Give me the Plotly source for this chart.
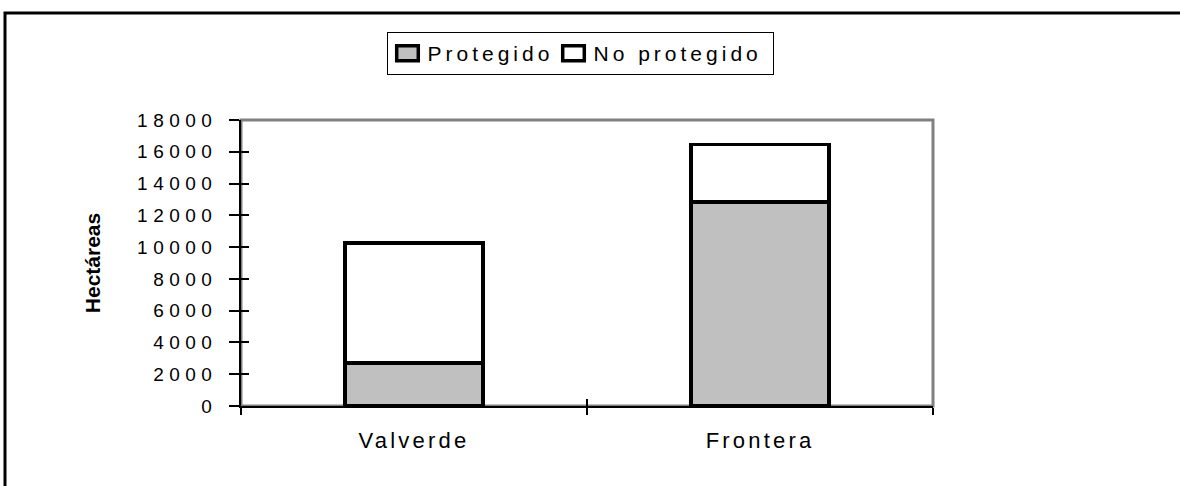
import plotly.graph_objects as go

# Data
regiones = ['Valverde', 'Frontera']
protegido = [2700, 12850]
no_protegido = [7550, 3600]   # stacked on top of protegido
y_ticks = [0, 2000, 4000, 6000, 8000, 10000, 12000, 14000, 16000, 18000]

W, H = 1180, 486
L, R, T, B = 241, 247, 120, 80
pw, ph = W - L - R, H - T - B


def px(x):
    return (x - L) / pw


def py(y):
    return (H - B - y) / ph


font_txt = dict(family='Liberation Sans, Arial, sans-serif', size=20, color='black')

fig = go.Figure()

fig.add_trace(go.Bar(
    x=regiones, y=protegido, name='Protegido',
    marker=dict(color='#c0c0c0', line=dict(color='black', width=3.5)),
    width=0.4, legendwidth=121,
))
fig.add_trace(go.Bar(
    x=regiones, y=no_protegido, name='No protegido',
    marker=dict(color='white', line=dict(color='black', width=3.5)),
    width=0.4, legendwidth=174,
))

# empty trace so the overlay axes (inner half of the crossing ticks) get drawn
fig.add_trace(go.Scatter(x=[], y=[], xaxis='x2', yaxis='y2', showlegend=False, hoverinfo='skip'))

# gray plot area border (top/right)
fig.add_shape(type='rect', xref='paper', yref='paper', x0=0, y0=0, x1=1, y1=1,
              line=dict(color='#808080', width=3), layer='below')

# outer chart frame, cropped by the image edge
fig.add_shape(type='rect', xref='paper', yref='paper',
              x0=px(5), y0=py(600), x1=px(1300), y1=py(13),
              line=dict(color='black', width=3), fillcolor='rgba(0,0,0,0)')

fig.update_layout(
    width=W, height=H,
    margin=dict(l=L, r=R, t=T, b=B, autoexpand=False),
    barmode='stack',
    plot_bgcolor='white', paper_bgcolor='white',
    font=font_txt,
    showlegend=True,
    legend=dict(
        orientation='h', x=px(580), xanchor='center', y=py(32), yanchor='top',
        bordercolor='black', borderwidth=1, bgcolor='white',
        font=dict(size=21), traceorder='normal',
    ),
    xaxis=dict(
        type='category', range=[-0.5, 1.5],
        showline=True, linecolor='black', linewidth=1.5,
        ticks='outside', ticklen=7, tickcolor='black', tickwidth=1.5,
        tickson='boundaries', showgrid=False,
        tickfont=dict(size=22), ticklabelstandoff=14,
    ),
    xaxis2=dict(
        overlaying='x', range=[-0.5, 1.5], tickvals=[-0.5, 0.5, 1.5],
        ticks='inside', ticklen=7, tickcolor='black', tickwidth=1.5,
        showticklabels=False, showgrid=False, zeroline=False, showline=False,
    ),
    yaxis=dict(
        range=[0, 18000], tickvals=y_ticks, tickformat='d',
        showline=True, linecolor='black', linewidth=1.5,
        ticks='outside', ticklen=10, tickcolor='black', tickwidth=1.5,
        showgrid=False, zeroline=False, tickfont=dict(size=19),
        title=dict(text='<b>Hectáreas</b>', font=dict(size=21), standoff=58),
        ticklabelstandoff=8,
    ),
    yaxis2=dict(
        overlaying='y', range=[0, 18000], tickvals=y_ticks,
        ticks='inside', ticklen=8, tickcolor='black', tickwidth=1.5,
        showticklabels=False, showgrid=False, zeroline=False, showline=False,
    ),
)

# page margin off, wide letter spacing and wider legend keys as in the original
style_js = """
var st = document.createElement('style');
st.innerHTML = 'body {margin:0;}'
  + ' .ytick text {letter-spacing: 5.5px;}'
  + ' .xtick text {letter-spacing: 3.2px;}'
  + ' .legendtext {letter-spacing: 4px;}'
  + ' .legendpoints path {transform: translate(20px,0px) scale(1.8,1.25); vector-effect: non-scaling-stroke;}';
document.head.appendChild(st);
"""

fig.write_html("out.html", post_script=style_js, config={'displayModeBar': False})
